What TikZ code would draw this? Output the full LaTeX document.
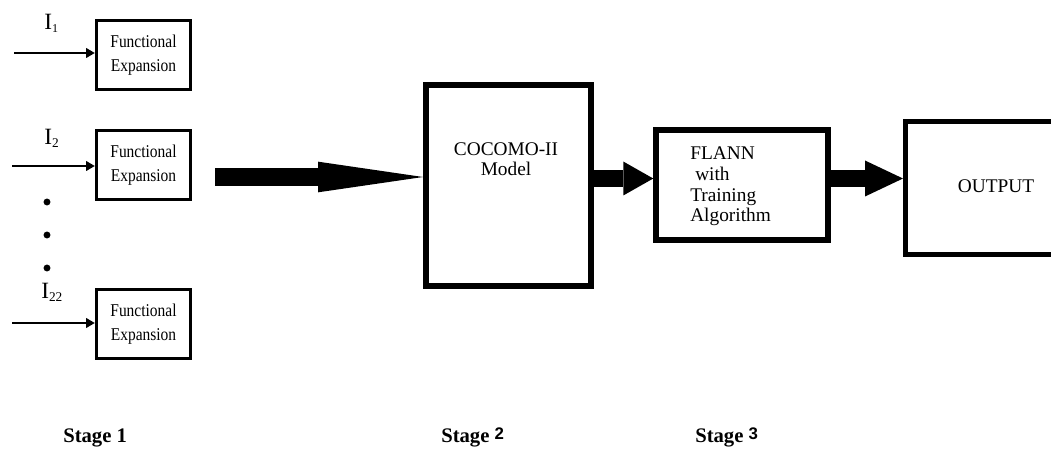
\documentclass[tikz,border=0pt]{standalone}
\usepackage{fontspec}
\setmainfont{Liberation Serif}
\newfontfamily\narrowserif[FakeStretch=0.86]{Liberation Serif}
\newfontfamily\stagedigit{Liberation Sans}
\usetikzlibrary{arrows.meta}

\begin{document}
\begin{tikzpicture}[x=0.75pt,y=-0.75pt,
  febox/.style={draw, line width=2.4pt, inner sep=0pt,
    minimum width=70.5pt, minimum height=51.75pt,
    font=\narrowserif\fontsize{13.5}{18}\selectfont, align=center},
  bigbox/.style={draw, inner sep=0pt},
  boxtext/.style={inner sep=0pt, font=\fontsize{14.5}{15}\selectfont},
  inlabel/.style={inner sep=0pt, anchor=base west, font=\fontsize{17.5}{18}\selectfont},
  stagelabel/.style={inner sep=0pt, anchor=base west, font=\bfseries\fontsize{15.5}{16}\selectfont},
  vdot/.style={circle, fill, inner sep=0pt, minimum size=5.2pt},
  inarrow/.style={line width=2pt, -{Triangle[length=6.5pt, width=7pt]}},
  fatarrow/.style={line cap=butt}
]
\useasboundingbox (0,0) rectangle (1051,449);
\clip (0,0) rectangle (1051,449);

% ---- Stage 1: inputs and functional expansion blocks ----
\node[febox] (fe1) at (143.5,55)  {Functional\\Expansion};
\node[febox] (fe2) at (143.5,165) {Functional\\Expansion};
\node[febox] (fe3) at (143.5,324) {Functional\\Expansion};

\coordinate (in1) at (14,53);
\coordinate (in2) at (12,166);
\coordinate (in3) at (12,323);
\draw[inarrow] (in1) -- (in1 -| fe1.west);
\draw[inarrow] (in2) -- (in2 -| fe2.west);
\draw[inarrow] (in3) -- (in3 -| fe3.west);

\node[inlabel] (i1)  at (44,30)  {I\raisebox{-0.25ex}{\fontsize{9}{9}\selectfont 1}};
\node[inlabel] (i2)  at (44,145) {I\raisebox{-0.25ex}{\fontsize{10}{10}\selectfont 2}};
\node[inlabel] (i22) at (41,299) {I\raisebox{-0.25ex}{\fontsize{10}{10}\selectfont 22}};

\node[vdot] (d1) at (47,202) {};
\node[vdot] (d2) at (47,235) {};
\node[vdot] (d3) at (47,268) {};

% ---- Stage 2: COCOMO-II model ----
\node[bigbox, line width=4.5pt, minimum width=123.75pt, minimum height=150.75pt]
  (cocomo) at (508.5,185.5) {};
\node[boxtext, anchor=base] (cocomoA) at (506,156) {COCOMO-II};
\node[boxtext, anchor=base] (cocomoB) at (506,176) {Model};

\coordinate (feed) at (215,177);
\draw[fatarrow, line width=13.5pt,
      -{Triangle[length=78.75pt, width=23pt, line width=0pt]}]
  (feed) -- (feed -| cocomo.west);

% ---- Stage 3: FLANN and output ----
\node[bigbox, line width=4.1pt, minimum width=129pt, minimum height=82.5pt]
  (flann) at (742,185) {};
\node[boxtext, anchor=base west] (flannA) at (690,160) {FLANN};
\node[boxtext, anchor=base west] (flannB) at (695,181) {with};
\node[boxtext, anchor=base west] (flannC) at (690,202) {Training};
\node[boxtext, anchor=base west] (flannD) at (690,222) {Algorithm};

\node[bigbox, line width=3.75pt, minimum width=119.6pt, minimum height=99.75pt]
  (out) at (985.25,188) {};
\node[boxtext, anchor=base] (outtext) at (996,193) {OUTPUT};

\coordinate (lvl) at (0,178.5);
\draw[fatarrow, line width=12.75pt,
      -{Triangle[length=22.5pt, width=25.5pt, line width=0pt]}]
  (cocomo.east |- lvl) -- (flann.west |- lvl);
\draw[fatarrow, line width=12.75pt,
      -{Triangle[length=28.5pt, width=27pt, line width=0pt]}]
  (flann.east |- lvl) -- (out.west |- lvl);

% ---- stage captions ----
\node[stagelabel] (s1) at (63,442)  {Stage 1};
\node[stagelabel] (s2) at (441,442) {Stage \raisebox{0.3ex}{\stagedigit\bfseries\fontsize{12.6}{13}\selectfont 2}};
\node[stagelabel] (s3) at (695,442) {Stage \raisebox{0.3ex}{\stagedigit\bfseries\fontsize{12.6}{13}\selectfont 3}};
\end{tikzpicture}
\end{document}
